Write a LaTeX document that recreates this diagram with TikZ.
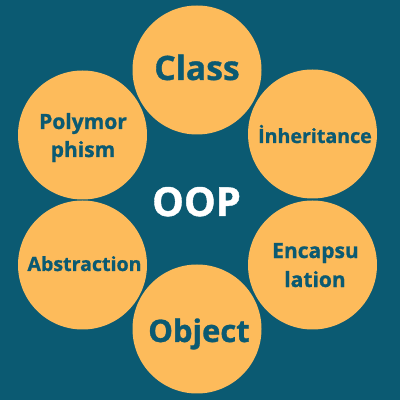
\documentclass[tikz,border=0pt]{standalone}
\usepackage{fontspec}
\setmainfont{Open Sans}[BoldFeatures={FakeBold=1}]
\definecolor{bg}{HTML}{0B5A72}
\definecolor{orb}{HTML}{FDBB5B}
\tikzset{
  orbit/.style={circle, fill=orb, draw=none, minimum size=129pt, inner sep=0pt},
  lbl/.style={anchor=base, text=bg, font=\bfseries, inner sep=0pt},
}
\begin{document}
\begin{tikzpicture}[x=1pt,y=1pt]
\fill[bg] (0,0) rectangle (400,400);
\useasboundingbox (0,0) rectangle (400,400);
\node[orbit] (cls) at (197,330) {};
\node[orbit] (inh) at (312.5,266) {};
\node[orbit] (enc) at (312.5,135) {};
\node[orbit] (obj) at (197,71) {};
\node[orbit] (abs) at (82.5,135) {};
\node[orbit] (pol) at (82.5,265) {};
\node[lbl, font=\bfseries\fontsize{33.6}{36}\selectfont] (tcls) at (197,320) {Class};
\node[lbl, font=\bfseries\fontsize{31}{34}\selectfont] (tobj) at (199,58) {Object};
\node[lbl, font=\bfseries\fontsize{40}{44}\selectfont, text=white] (toop) at (196.5,184) {OOP};
\node[lbl, font=\bfseries\fontsize{21}{24}\selectfont] (tpol1) at (83,271) {Polymor};
\node[lbl, font=\bfseries\fontsize{21}{24}\selectfont] (tpol2) at (83,243) {phism};
\node[lbl, font=\bfseries\fontsize{19.6}{22}\selectfont] (tinh) at (315,257) {İnheritance};
\node[lbl, font=\bfseries\fontsize{19.6}{22}\selectfont] (tabs) at (84.5,129) {Abstraction};
\node[lbl, font=\bfseries\fontsize{21}{24}\selectfont] (tenc1) at (315.5,142) {Encapsu};
\node[lbl, font=\bfseries\fontsize{21}{24}\selectfont] (tenc2) at (315,113) {lation};
\end{tikzpicture}
\end{document}
